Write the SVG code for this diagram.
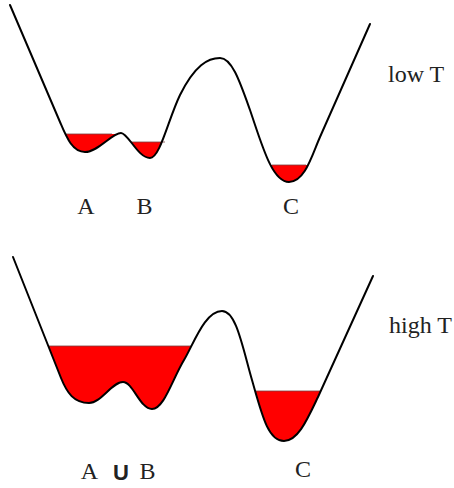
<svg xmlns="http://www.w3.org/2000/svg" width="454" height="488" viewBox="0 0 454 488">
<style>
.curve{fill:none;stroke:#000;stroke-width:2;stroke-linejoin:round;stroke-linecap:round}
.pool{fill:#ff0000;stroke:none}
.lvl{stroke:#7a4040;stroke-width:0.8}
.lbl{font-family:"Liberation Serif","Times New Roman",serif;font-size:24px;fill:#222}
.uni{font-family:"Liberation Sans",Arial,sans-serif;font-weight:bold;font-size:22px;fill:#222}
</style>
<defs>
<path id="top" d="M10,5 L60,122 C66,136 72,152 85,152 C98,152 112,133 121,133 C128,133 138,158 150,158 C160,158 168,120 180,95 C195,65 208,58 220,58 C232,58 240,82 250,110 C262,145 272,182 289,182 C305,182 312,155 320,137 L370,24"/>
<path id="bot" d="M13,257 L61,378 C67,393 74,403 89,403 C101,403 112,382 123,382 C133,382 140,409 152,409 C164,409 172,380 184,360 C194,343 205,311 222,311 C236,311 242,345 252,380 C262,415 268,441 284,441 C298,441 307,420 318,397 L373,276"/>
<clipPath id="cA"><rect x="40" y="134" width="81" height="80"/></clipPath>
<clipPath id="cB"><rect x="121" y="142" width="80" height="80"/></clipPath>
<clipPath id="cC"><rect x="230" y="165" width="140" height="60"/></clipPath>
<clipPath id="cAB"><rect x="30" y="346" width="192" height="80"/></clipPath>
<clipPath id="cC2"><rect x="230" y="391" width="140" height="70"/></clipPath>
</defs>
<g id="low-T">
<use href="#top" class="pool" clip-path="url(#cA)"/>
<use href="#top" class="pool" clip-path="url(#cB)"/>
<use href="#top" class="pool" clip-path="url(#cC)"/>
<line class="lvl" x1="65" y1="134" x2="112" y2="134"/>
<line class="lvl" x1="131" y1="142" x2="165" y2="142"/>
<line class="lvl" x1="272" y1="165" x2="306" y2="165"/>
<use href="#top" class="curve"/>
<text class="lbl" x="388" y="82">low T</text>
<text class="lbl" x="86" y="214" text-anchor="middle">A</text>
<text class="lbl" x="144.5" y="214" text-anchor="middle">B</text>
<text class="lbl" x="291" y="214" text-anchor="middle">C</text>
</g>
<g id="high-T">
<use href="#bot" class="pool" clip-path="url(#cAB)"/>
<use href="#bot" class="pool" clip-path="url(#cC2)"/>
<line class="lvl" x1="48" y1="346" x2="192" y2="346"/>
<line class="lvl" x1="256" y1="391" x2="321" y2="391"/>
<use href="#bot" class="curve"/>
<text class="lbl" x="389" y="333">high T</text>
<text class="lbl" x="89.5" y="479" text-anchor="middle">A</text>
<text class="uni" x="121" y="480" text-anchor="middle">U</text>
<text class="lbl" x="147.5" y="479" text-anchor="middle">B</text>
<text class="lbl" x="303" y="477" text-anchor="middle">C</text>
</g>
</svg>
